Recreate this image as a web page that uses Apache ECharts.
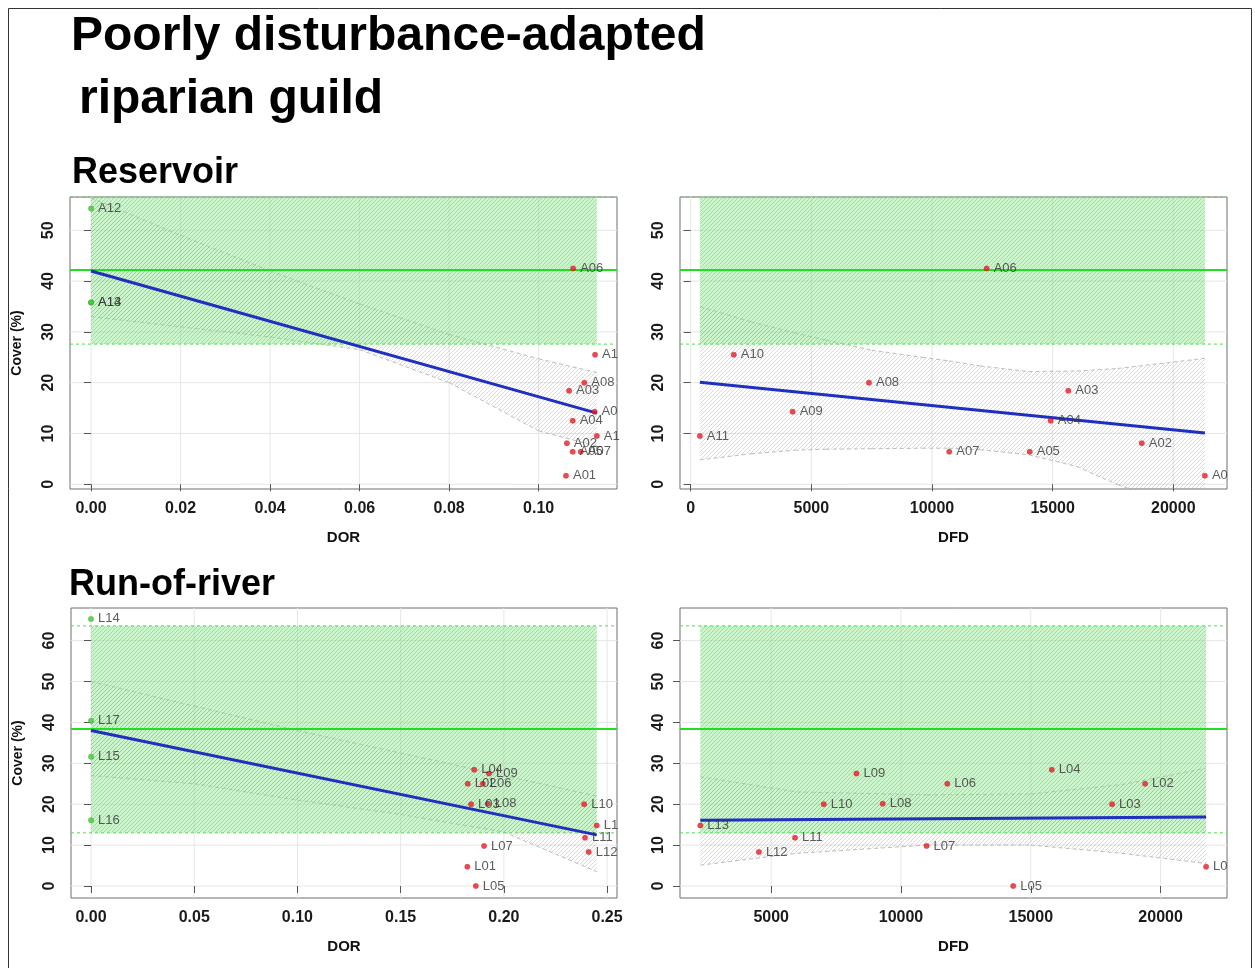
<!DOCTYPE html>
<html>
<head>
<meta charset="utf-8">
<script src="https://cdn.jsdelivr.net/npm/echarts@6/dist/echarts.min.js"></script>
<style>
  html, body { margin: 0; padding: 0; background: #fff; }
  #chart { width: 1255px; height: 968px; }
</style>
</head>
<body>
<div id="chart"></div>
<script>
// ---------- Data ----------
// Reservoir sites (downstream of storage dams)
const resSites = ['A01','A02','A03','A04','A05','A06','A07','A08','A09','A10','A11'];
const resDOR   = [0.1061, 0.1063, 0.1068, 0.1076, 0.1076, 0.1077, 0.1094, 0.1102, 0.1125, 0.1126, 0.1130];
const resDFD   = [21310, 18694, 15649, 14921, 14050, 12265, 10715, 7388, 4226, 1786, 380];
const resCover = [1.7, 8.1, 18.4, 12.5, 6.4, 42.5, 6.4, 20.0, 14.3, 25.5, 9.5];
// Unregulated reference sites (DOR = 0)
const resRefSites = ['A12','A13','A14'];
const resRefDOR   = [0, 0, 0];
const resRefCover = [54.3, 35.8, 35.8];

// Run-of-river sites
const rorSites = ['L01','L02','L03','L04','L05','L06','L07','L08','L09','L10','L11','L12','L13'];
const rorDOR   = [0.1823, 0.1825, 0.1841, 0.1856, 0.1864, 0.1898, 0.1904, 0.1922, 0.1928, 0.2389, 0.2393, 0.2411, 0.2450];
const rorDFD   = [21753, 19403, 18132, 15809, 14322, 11783, 10986, 9295, 8283, 7026, 5918, 4526, 2269];
const rorCover = [4.7, 25.0, 20.0, 28.4, 0.0, 25.0, 9.8, 20.1, 27.5, 20.0, 11.8, 8.3, 14.8];
const rorRefSites = ['L14','L15','L16','L17'];
const rorRefDOR   = [0, 0, 0, 0];
const rorRefCover = [65.3, 31.6, 16.1, 40.4];

// Reference condition: mean cover and its envelope
const resRef = [27.6, 42.2, 56.5];   // low, mean, high
const rorRef = [13.0, 38.4, 63.6];

// Fitted trends (end points)
const resDorFitX = [0, 0.1130],   resDorFitY = [42.0, 14.0];
const resDfdFitX = [380, 21310],  resDfdFitY = [20.1, 10.1];
const rorDorFitX = [0, 0.2450],   rorDorFitY = [38.0, 12.5];
const rorDfdFitX = [2269, 21753], rorDfdFitY = [16.1, 16.9];

// Confidence envelopes of the fitted trends
const resDorBandX  = [0, 0.02, 0.04, 0.06, 0.08, 0.10, 0.113];
const resDorBandHi = [56.4, 49.0, 42.0, 35.5, 29.5, 24.7, 22.0];
const resDorBandLo = [33.0, 31.0, 29.0, 26.5, 20.0, 10.5, 7.5];

const resDfdBandX  = [380, 2500, 4300, 5600, 7500, 9600, 10700, 12000, 14000, 16000, 17700, 21310];
const resDfdBandHi = [35.0, 32.0, 29.8, 28.4, 26.4, 25.0, 24.3, 23.3, 22.2, 22.3, 22.8, 24.8];
const resDfdBandLo = [4.8, 6.0, 6.7, 6.9, 7.0, 7.1, 7.1, 6.8, 5.8, 3.5, -0.1, -6.0];

const rorDorBandX  = [0, 0.05, 0.10, 0.15, 0.20, 0.245];
const rorDorBandHi = [50.0, 44.0, 38.0, 32.5, 27.0, 22.0];
const rorDorBandLo = [27.0, 25.0, 21.0, 17.5, 13.2, 3.5];

const rorDfdBandX  = [2269, 6000, 11000, 15000, 18500, 21753];
const rorDfdBandHi = [26.7, 23.0, 22.3, 22.5, 24.8, 28.8];
const rorDfdBandLo = [5.1, 8.0, 10.0, 10.0, 8.0, 5.5];

// Tick labels
const coverTicksRes = [0, 10, 20, 30, 40, 50];
const coverTicksRor = [0, 10, 20, 30, 40, 50, 60];
const dorTicksRes   = [0, 0.02, 0.04, 0.06, 0.08, 0.10];
const dfdTicksRes   = [0, 5000, 10000, 15000, 20000];
const dorTicksRor   = [0, 0.05, 0.10, 0.15, 0.20, 0.25];
const dfdTicksRor   = [5000, 10000, 15000, 20000];

// ---------- Layout ----------
const FONT = '"Liberation Sans", Arial, sans-serif';
const panels = [
  { left: 70,  top: 197, width: 547, height: 292, xMin: -0.0047,  xMax: 0.1175, yMin: -0.93, yMax: 56.56,
    xTicks: dorTicksRes, yTicks: coverTicksRes, digits: 2, xName: 'DOR', yName: 'Cover (%)' },
  { left: 680, top: 197, width: 547, height: 292, xMin: -443,     xMax: 22226,  yMin: -0.93, yMax: 56.56,
    xTicks: dfdTicksRes, yTicks: coverTicksRes, digits: 0, xName: 'DFD', yName: '' },
  { left: 71,  top: 608, width: 546, height: 290, xMin: -0.00969, xMax: 0.2548, yMin: -2.93, yMax: 67.97,
    xTicks: dorTicksRor, yTicks: coverTicksRor, digits: 2, xName: 'DOR', yName: 'Cover (%)' },
  { left: 680, top: 608, width: 547, height: 290, xMin: 1487,     xMax: 22558,  yMin: -2.93, yMax: 67.97,
    xTicks: dfdTicksRor, yTicks: coverTicksRor, digits: 0, xName: 'DFD', yName: '' }
];

// ---------- Hatch patterns ----------
function hatch(bg, line, step, width) {
  const c = document.createElement('canvas');
  c.width = step; c.height = step;
  const g = c.getContext('2d');
  if (bg) { g.fillStyle = bg; g.fillRect(0, 0, step, step); }
  g.strokeStyle = line; g.lineWidth = width;
  g.beginPath();
  g.moveTo(-1, step + 1); g.lineTo(step + 1, -1);
  g.moveTo(-1, 1); g.lineTo(1, -1);
  g.moveTo(step - 1, step + 1); g.lineTo(step + 1, step - 1);
  g.stroke();
  return { image: c, repeat: 'repeat' };
}
const greyHatch  = hatch(null, 'rgba(140,140,140,0.40)', 4, 0.8);
const greenHatch = hatch('rgba(140,236,140,0.45)', 'rgba(70,190,70,0.45)', 4, 0.8);

// ---------- Clipping helpers ----------
function clipPoly(pts, x0, y0, x1, y1) {
  const planes = [
    [p => p[0] >= x0, (a, b) => { const t = (x0 - a[0]) / (b[0] - a[0]); return [x0, a[1] + t * (b[1] - a[1])]; }],
    [p => p[0] <= x1, (a, b) => { const t = (x1 - a[0]) / (b[0] - a[0]); return [x1, a[1] + t * (b[1] - a[1])]; }],
    [p => p[1] >= y0, (a, b) => { const t = (y0 - a[1]) / (b[1] - a[1]); return [a[0] + t * (b[0] - a[0]), y0]; }],
    [p => p[1] <= y1, (a, b) => { const t = (y1 - a[1]) / (b[1] - a[1]); return [a[0] + t * (b[0] - a[0]), y1]; }]
  ];
  let out = pts;
  for (const [inside, cut] of planes) {
    const inp = out; out = [];
    for (let i = 0; i < inp.length; i++) {
      const cur = inp[i], prev = inp[(i + inp.length - 1) % inp.length];
      const ci = inside(cur), pi = inside(prev);
      if (ci) { if (!pi) out.push(cut(prev, cur)); out.push(cur); }
      else if (pi) out.push(cut(prev, cur));
    }
    if (!out.length) break;
  }
  return out;
}
function clipSeg(a, b, x0, y0, x1, y1) {
  let t0 = 0, t1 = 1;
  const dx = b[0] - a[0], dy = b[1] - a[1];
  const p = [-dx, dx, -dy, dy], q = [a[0] - x0, x1 - a[0], a[1] - y0, y1 - a[1]];
  for (let i = 0; i < 4; i++) {
    if (p[i] === 0) { if (q[i] < 0) return null; continue; }
    const r = q[i] / p[i];
    if (p[i] < 0) { if (r > t1) return null; if (r > t0) t0 = r; }
    else { if (r < t0) return null; if (r < t1) t1 = r; }
  }
  return [[a[0] + t0 * dx, a[1] + t0 * dy], [a[0] + t1 * dx, a[1] + t1 * dy]];
}
function box(cs) { return [cs.x, cs.y, cs.x + cs.width, cs.y + cs.height]; }

// ---------- Series builders ----------
function gridSeries(i) {
  const p = panels[i];
  return {
    type: 'custom', xAxisIndex: i, yAxisIndex: i, z: 0, silent: true,
    data: [[p.xTicks[0], p.yTicks[0]]],
    renderItem(params, api) {
      const [x0, y0, x1, y1] = box(params.coordSys);
      const kids = [];
      p.xTicks.forEach(t => {
        const x = api.coord([t, 0])[0];
        kids.push({ type: 'line', shape: { x1: x, y1: y0, x2: x, y2: y1 }, style: { stroke: '#e6e6e6', lineWidth: 1 } });
      });
      p.yTicks.forEach(t => {
        const y = api.coord([p.xTicks[0], t])[1];
        kids.push({ type: 'line', shape: { x1: x0, y1: y, x2: x1, y2: y }, style: { stroke: '#e6e6e6', lineWidth: 1 } });
      });
      return { type: 'group', children: kids };
    }
  };
}

function bandSeries(i, xs, hi, lo) {
  return {
    type: 'custom', xAxisIndex: i, yAxisIndex: i, z: 1, silent: true,
    data: xs.map((x, k) => [x, hi[k], lo[k]]),
    encode: { x: 0, y: [1, 2] },
    renderItem(params, api) {
      if (params.dataIndex !== 0) return null;
      const [x0, y0, x1, y1] = box(params.coordSys);
      const top = xs.map((x, k) => api.coord([x, hi[k]]));
      const bot = xs.map((x, k) => api.coord([x, lo[k]]));
      const poly = clipPoly(top.concat(bot.slice().reverse()), x0, y0, x1, y1);
      const kids = [{ type: 'polygon', shape: { points: poly }, style: { fill: greyHatch } }];
      [top, bot].forEach(line => {
        for (let k = 0; k < line.length - 1; k++) {
          const s = clipSeg(line[k], line[k + 1], x0, y0, x1, y1);
          if (s) kids.push({ type: 'line', shape: { x1: s[0][0], y1: s[0][1], x2: s[1][0], y2: s[1][1] },
                             style: { stroke: '#bdbdbd', lineWidth: 1, lineDash: [4, 3] } });
        }
      });
      return { type: 'group', children: kids };
    }
  };
}

function refSeries(i, xLo, xHi, ref) {
  return {
    type: 'custom', xAxisIndex: i, yAxisIndex: i, z: 2, silent: true,
    data: [[xLo, ref[0]], [xHi, ref[2]]],
    renderItem(params, api) {
      if (params.dataIndex !== 0) return null;
      const [x0, y0, x1, y1] = box(params.coordSys);
      const a = api.coord([xLo, ref[2]]), b = api.coord([xHi, ref[0]]);
      const yTop = Math.max(a[1], y0), yBot = Math.min(b[1], y1);
      const yMean = api.coord([xLo, ref[1]])[1];
      const kids = [
        { type: 'rect', shape: { x: a[0], y: yTop, width: b[0] - a[0], height: yBot - yTop }, style: { fill: greenHatch } }
      ];
      [yTop, yBot].forEach(y => kids.push({ type: 'line', shape: { x1: x0, y1: y, x2: x1, y2: y },
        style: { stroke: '#4ee04e', lineWidth: 1, lineDash: [3, 3] } }));
      kids.push({ type: 'line', shape: { x1: x0, y1: yMean, x2: x1, y2: yMean }, style: { stroke: '#22dd22', lineWidth: 2 } });
      return { type: 'group', children: kids };
    }
  };
}

function fitSeries(i, xs, ys) {
  return {
    type: 'line', xAxisIndex: i, yAxisIndex: i, z: 3, silent: true, symbol: 'none',
    data: xs.map((x, k) => [x, ys[k]]),
    lineStyle: { color: '#1f2fbf', width: 3 }
  };
}

function pointSeries(i, xs, ys, names, color, chart) {
  const p = panels[i];
  const right = p.left + p.width;
  return {
    type: 'scatter', xAxisIndex: i, yAxisIndex: i, z: 4, silent: true,
    symbol: 'circle', symbolSize: 5.5,
    itemStyle: { color: color, borderColor: 'rgba(120,0,0,0.35)', borderWidth: 0.5 },
    data: xs.map((x, k) => {
      const item = { name: names[k], value: [x, ys[k]] };
      if (chart) {
        const px = chart.convertToPixel({ gridIndex: i }, [x, ys[k]]);
        const avail = right - (px[0] + 6.5);
        if (avail < 30) item.label = { width: Math.max(avail + 5, 0), overflow: 'truncate', ellipsis: '' };
      }
      return item;
    }),
    label: {
      show: true, position: 'right', distance: 4, formatter: '{b}',
      fontFamily: FONT, fontSize: 13, color: '#333'
    }
  };
}

function buildOption(chart) {
  const grid = panels.map(p => ({
    left: p.left, top: p.top, width: p.width, height: p.height,
    show: true, borderColor: '#6e6e6e', borderWidth: 1, backgroundColor: 'transparent'
  }));
  const xAxis = panels.map((p, i) => ({
    type: 'value', gridIndex: i, min: p.xMin, max: p.xMax,
    name: p.xName, nameLocation: 'middle', nameGap: 41,
    nameTextStyle: { fontFamily: FONT, fontWeight: 'bold', fontSize: 15, color: '#111' },
    axisLine: { show: false },
    axisTick: { show: true, length: 7, customValues: p.xTicks, lineStyle: { color: '#555' } },
    axisLabel: { customValues: p.xTicks, margin: 12, fontFamily: FONT, fontWeight: 'bold', fontSize: 16, color: '#1a1a1a',
                 formatter: v => v.toFixed(p.digits) },
    splitLine: { show: false }
  }));
  const yAxis = panels.map((p, i) => ({
    type: 'value', gridIndex: i, min: p.yMin, max: p.yMax,
    name: p.yName, nameLocation: 'middle', nameGap: 46, nameRotate: 90,
    nameTextStyle: { fontFamily: FONT, fontWeight: 'bold', fontSize: 14, color: '#111' },
    axisLine: { show: false },
    axisTick: { show: true, length: 7, customValues: p.yTicks, lineStyle: { color: '#555' } },
    axisLabel: { customValues: p.yTicks, rotate: 90, margin: 13, fontFamily: FONT, fontWeight: 'bold', fontSize: 16, color: '#1a1a1a' },
    splitLine: { show: false }
  }));

  const red = '#e81c26', green = '#2fd12f';
  const allResDOR = resDOR.concat(resRefDOR), allRorDOR = rorDOR.concat(rorRefDOR);
  const series = [
    gridSeries(0), gridSeries(1), gridSeries(2), gridSeries(3),
    bandSeries(0, resDorBandX, resDorBandHi, resDorBandLo),
    bandSeries(1, resDfdBandX, resDfdBandHi, resDfdBandLo),
    bandSeries(2, rorDorBandX, rorDorBandHi, rorDorBandLo),
    bandSeries(3, rorDfdBandX, rorDfdBandHi, rorDfdBandLo),
    refSeries(0, Math.min(...allResDOR), Math.max(...allResDOR), resRef),
    refSeries(1, Math.min(...resDFD), Math.max(...resDFD), resRef),
    refSeries(2, Math.min(...allRorDOR), Math.max(...allRorDOR), rorRef),
    refSeries(3, Math.min(...rorDFD), Math.max(...rorDFD), rorRef),
    fitSeries(0, resDorFitX, resDorFitY),
    fitSeries(1, resDfdFitX, resDfdFitY),
    fitSeries(2, rorDorFitX, rorDorFitY),
    fitSeries(3, rorDfdFitX, rorDfdFitY),
    pointSeries(0, resDOR, resCover, resSites, red, chart),
    pointSeries(0, resRefDOR, resRefCover, resRefSites, green, chart),
    pointSeries(1, resDFD, resCover, resSites, red, chart),
    pointSeries(2, rorDOR, rorCover, rorSites, red, chart),
    pointSeries(2, rorRefDOR, rorRefCover, rorRefSites, green, chart),
    pointSeries(3, rorDFD, rorCover, rorSites, red, chart)
  ];

  const graphic = [
    { type: 'rect', shape: { x: 8.5, y: 8.5, width: 1243, height: 990 }, style: { fill: 'none', stroke: '#333', lineWidth: 1 }, silent: true },
    { type: 'text', x: 71, y: 37, style: { text: 'Poorly disturbance-adapted', font: 'bold 48px ' + FONT, fill: '#000', verticalAlign: 'middle' } },
    { type: 'text', x: 79, y: 100, style: { text: 'riparian guild', font: 'bold 48px ' + FONT, fill: '#000', verticalAlign: 'middle' } },
    { type: 'text', x: 72, y: 173, style: { text: 'Reservoir', font: 'bold 36px ' + FONT, fill: '#000', verticalAlign: 'middle' } },
    { type: 'text', x: 69, y: 585, style: { text: 'Run-of-river', font: 'bold 36px ' + FONT, fill: '#000', verticalAlign: 'middle' } }
  ];

  return { animation: false, backgroundColor: '#fff', grid, xAxis, yAxis, series, graphic };
}

const chart = echarts.init(document.getElementById('chart'));
chart.setOption(buildOption(null));
// second pass: labels running past the plot frame are cut at its right edge
chart.setOption(buildOption(chart), true);
</script>
</body>
</html>
